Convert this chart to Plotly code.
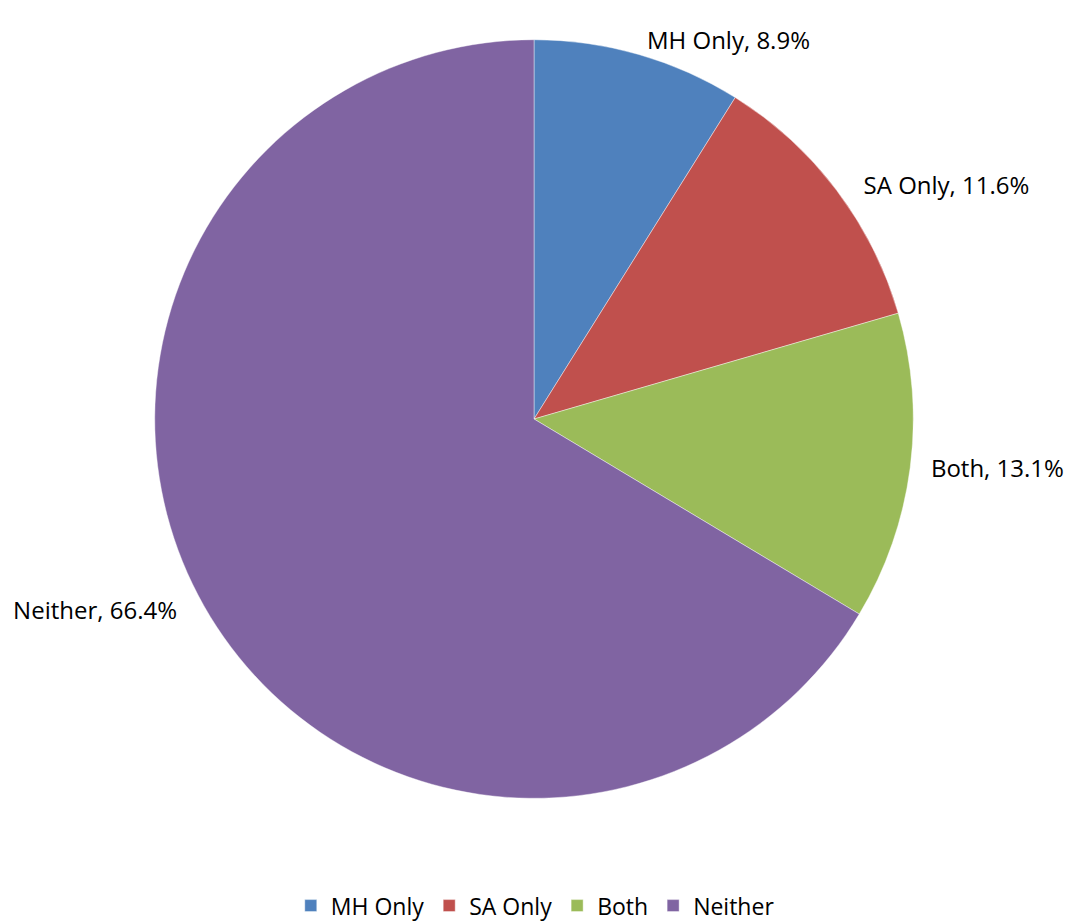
import plotly.graph_objects as go

categories = ["MH Only", "SA Only", "Both", "Neither"]
values = [8.9, 11.6, 13.1, 66.4]
colors = ["#4F81BD", "#C0504D", "#9BBB59", "#8064A2"]

W, H = 1074, 921
cx, cy, r = 525, 411, 380

NB = "\u00a0"
label_templates = [
    "%{label}, %{value:.1f}%",
    NB * 3 + "%{label}, %{value:.1f}%",
    NB * 2 + "%{label}, %{value:.1f}%",
    "%{label}, %{value:.1f}%" + NB * 3,
]

fig = go.Figure(go.Pie(
    labels=categories,
    values=values,
    sort=False,
    direction="clockwise",
    rotation=0,
    marker=dict(colors=colors, line=dict(color="rgba(255,255,255,0.6)", width=0.7)),
    texttemplate=label_templates,
    textposition="outside",
    textfont=dict(family="Open Sans", size=24, color="#000000"),
    hoverinfo="skip",
    domain=dict(x=[(cx - r) / W, (cx + r) / W], y=[(H - cy - r) / H, (H - cy + r) / H]),
))

fig.update_layout(
    width=W, height=H,
    margin=dict(l=0, r=0, t=0, b=0),
    paper_bgcolor="white",
    showlegend=True,
    legend=dict(orientation="h", x=0.49, xanchor="center", y=0.002, yanchor="bottom",
                font=dict(family="Open Sans", size=23, color="#000000"),
                itemclick=False),
)

fig.write_html("out.html")
